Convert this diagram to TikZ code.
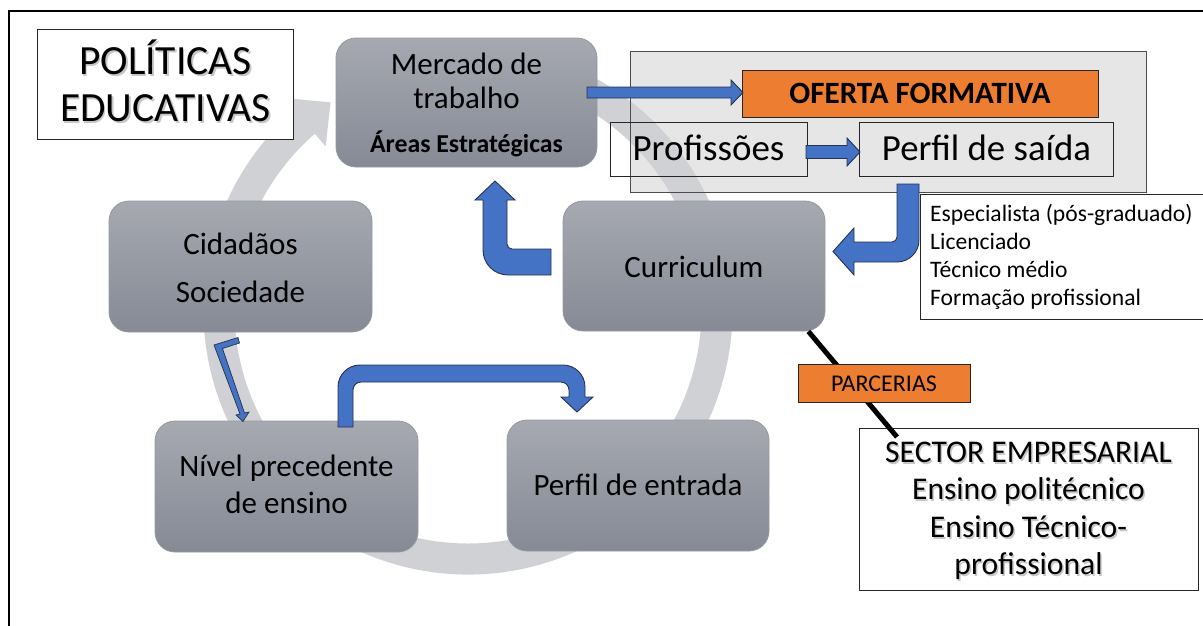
\documentclass[tikz,border=0pt]{standalone}
\usepackage{fontspec}
\setmainfont{Carlito}
\usetikzlibrary{calc}
\definecolor{ringgray}{RGB}{208,209,213}
\definecolor{panelgray}{RGB}{231,230,230}
\definecolor{boxtop}{RGB}{166,169,176}
\definecolor{boxbot}{RGB}{133,138,149}
\definecolor{boxedge}{RGB}{150,153,160}
\definecolor{arrowblue}{RGB}{68,114,196}
\definecolor{arrowedge}{RGB}{38,50,80}
\definecolor{orangefill}{RGB}{237,125,49}
\begin{document}
\begin{tikzpicture}[x=1pt,y=-1pt,
  gbox/.style={rounded corners=20pt, top color=boxtop, bottom color=boxbot, draw=boxedge, line width=0.8pt, inner sep=0pt},
  plainbox/.style={draw=black!85, line width=1pt, inner sep=0pt},
  bluearrow/.style={fill=arrowblue, draw=arrowedge, line width=0.9pt, line join=miter},
  txtbig/.style={anchor=base, inner sep=0pt, font=\fontsize{31}{37}\selectfont},
  txtsec/.style={anchor=base, inner sep=0pt, font=\fontsize{31.6}{37}\selectfont},
  txtshadow/.style={text=black, opacity=0.22},
  txtlist/.style={anchor=base west, inner sep=0pt, font=\fontsize{23.6}{28}\selectfont},
]
\useasboundingbox (0,0) rectangle (1203,625);
\clip (0,0) rectangle (1203,625);
\fill[white] (0,0) rectangle (1203,625);

% outer frame
\draw[line width=2.6pt, black] (9,11) rectangle (1230,660);

% grey panel behind the offer
\node[fill=panelgray, minimum width=515pt, minimum height=140pt, inner sep=0pt] (panel) at (888.5,122) {};

% big grey cycle arrow
\coordinate (C) at (468,310);
\fill[ringgray] ($(C)+(75:264.5pt)$) arc[start angle=75, end angle=-229, radius=264.5pt]
  -- ($(C)+(-229:281pt)$) -- ($(C)+(-236.5:249pt)$) -- ($(C)+(-229:217pt)$)
  -- ($(C)+(-229:233.5pt)$) arc[start angle=-229, end angle=75, radius=233.5pt] -- cycle;

% panel border and offer boxes
\draw[draw=black!70, line width=1pt] (panel.north west) rectangle (panel.south east);
\node[plainbox, fill=orangefill, minimum width=356pt, minimum height=47pt] (oferta) at (920,93.5) {};
\node[anchor=base, inner sep=0pt, font=\bfseries\fontsize{31}{36}\selectfont] (ofertaT) at (920,103.5) {OFERTA FORMATIVA};
\node[plainbox, minimum width=197pt, minimum height=54pt] (prof) at (708.5,149) {};
\node[anchor=base, inner sep=0pt, font=\fontsize{37}{42}\selectfont] (profT) at (708.5,160.5) {Profissões};
\node[plainbox, minimum width=254pt, minimum height=54pt] (saida) at (986,149) {};
\node[anchor=base, inner sep=0pt, font=\fontsize{36.8}{42}\selectfont] (saidaT) at (986.5,160.5) {Perfil de saída};

% politicas
\node[plainbox, fill=white, minimum width=256pt, minimum height=110pt] (pol) at (165,84.5) {};
\node[txtshadow, anchor=base, inner sep=0pt, font=\fontsize{41.5}{48}\selectfont] at (167,76) {POLÍTICAS};
\node[txtshadow, anchor=base, inner sep=0pt, font=\fontsize{41.5}{48}\selectfont] at (167,123) {EDUCATIVAS};
\node[anchor=base, inner sep=0pt, font=\fontsize{41.5}{48}\selectfont] (polT1) at (165.5,74) {POLÍTICAS};
\node[anchor=base, inner sep=0pt, font=\fontsize{41.5}{48}\selectfont] (polT2) at (165.5,121) {EDUCATIVAS};

% cycle boxes
\node[gbox, minimum width=261pt, minimum height=129pt] (merc) at (466.5,102.5) {};
\node[txtbig] (mercT1) at (466.5,74) {Mercado de};
\node[txtbig] (mercT2) at (466.5,108) {trabalho};
\node[anchor=base, inner sep=0pt, font=\bfseries\fontsize{25.8}{30}\selectfont] (mercT3) at (466.5,152) {Áreas Estratégicas};

\node[gbox, minimum width=262pt, minimum height=130pt] (curr) at (694,266) {};
\node[txtbig] (currT) at (694,277) {Curriculum};

\node[gbox, minimum width=263pt, minimum height=131pt] (cid) at (240.5,266.5) {};
\node[txtbig] (cidT1) at (240.5,254) {Cidadãos};
\node[txtbig] (cidT2) at (240.5,302) {Sociedade};

\node[gbox, minimum width=263pt, minimum height=131pt] (niv) at (286.5,486.5) {};
\node[txtbig] (nivT1) at (286.5,476) {Nível precedente};
\node[txtbig] (nivT2) at (286.5,513) {de ensino};

\node[gbox, minimum width=262pt, minimum height=131pt] (ent) at (638,485.5) {};
\node[txtbig] (entT) at (638,495) {Perfil de entrada};

% blue arrows
\draw[bluearrow] (587,87) -- (731,87) -- (731,80) -- (743,92.5) -- (731,105) -- (731,98) -- (587,98) -- cycle;
\draw[bluearrow] (806,145.5) -- (847,145.5) -- (847,138) -- (860,152) -- (847,166) -- (847,158.5) -- (806,158.5) -- cycle;
% curriculum -> mercado
\draw[bluearrow] (551,249) -- (551,275) -- (508,275) arc[start angle=-90, end angle=-180, radius=25pt]
  -- (483,200) -- (475,200) -- (495,181) -- (515,200) -- (507,200) -- (507,244)
  arc[start angle=180, end angle=270, radius=5pt] -- cycle;
% perfil de saida -> curriculum
\draw[bluearrow] (897,184) -- (919,184) -- (919,240) arc[start angle=0, end angle=-90, radius=22pt]
  -- (854,262) -- (854,275) -- (833,251.5) -- (854,228) -- (854,242) -- (892,242)
  arc[start angle=-90, end angle=0, radius=5pt] -- cycle;
% nivel -> perfil de entrada
\draw[bluearrow] (338,427) -- (338,387) arc[start angle=180, end angle=90, radius=22pt]
  -- (563,365) arc[start angle=90, end angle=0, radius=22pt]
  -- (585,397) -- (593,397) -- (577,412) -- (561,397) -- (569,397) -- (569,390)
  arc[start angle=0, end angle=90, radius=8pt] -- (361,382)
  arc[start angle=90, end angle=180, radius=8pt] -- (353,427) -- cycle;
% cidadaos -> nivel (thin bent arrow)
\draw[bluearrow, line width=0.7pt] (214,345) -- (238,337.5) -- (239.5,343) -- (222.5,348.5) -- (244.5,413)
  -- (249,412) -- (243,421.5) -- (236,415) -- (240,414) -- cycle;

% list of exit profiles
\node[plainbox, fill=white, minimum width=300pt, minimum height=125pt] (lista) at (1070,256.5) {};
\node[txtlist] (l1) at (930,221.5) {Especialista (pós-graduado)};
\node[txtlist] (l2) at (930,249.5) {Licenciado};
\node[txtlist] (l3) at (930,277.5) {Técnico médio};
\node[txtlist] (l4) at (930,305.5) {Formação profissional};

% sector empresarial
\node[plainbox, fill=white, minimum width=339pt, minimum height=162pt] (sector) at (1028.5,509) {};
\node[txtsec, txtshadow] at (1030,464) {SECTOR EMPRESARIAL};
\node[txtsec, txtshadow] at (1030,501.5) {Ensino politécnico};
\node[txtsec, txtshadow] at (1030,539) {Ensino Técnico-};
\node[txtsec, txtshadow] at (1030,576.5) {profissional};
\node[txtsec] (secT1) at (1028.5,462) {SECTOR EMPRESARIAL};
\node[txtsec] (secT2) at (1028.5,499.5) {Ensino politécnico};
\node[txtsec] (secT3) at (1028.5,537) {Ensino Técnico-};
\node[txtsec] (secT4) at (1028.5,574.5) {profissional};

% parcerias link
\coordinate (linkend) at (897,437);
\draw[line width=5pt, black] ($(curr.south east)+(-17,0)$) -- (linkend);
\node[plainbox, fill=orangefill, minimum width=172pt, minimum height=38pt] (parc) at (884,383) {};
\node[anchor=base, inner sep=0pt, font=\fontsize{24}{28}\selectfont] (parcT) at (884,391) {PARCERIAS};
\end{tikzpicture}
\end{document}
